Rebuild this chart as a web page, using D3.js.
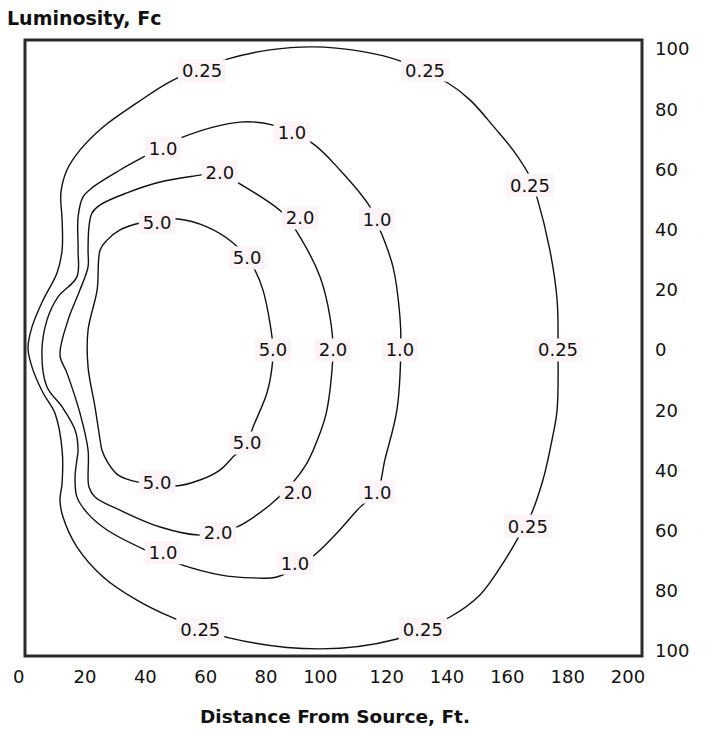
<!DOCTYPE html>
<html>
<head>
<meta charset="utf-8">
<script src="https://cdn.jsdelivr.net/npm/d3@7"></script>
<style>
  body { margin: 0; background: #fff; }
  svg text { font-family: "DejaVu Sans", "Open Sans", sans-serif; fill: #111; }
</style>
</head>
<body>
<div id="chart"></div>
<script>
////////////////////------ DATA (distance ft, lateral ft) ------////////////////////
var xTicks = [0, 20, 40, 60, 80, 100, 120, 140, 160, 180, 200];
var yTicks = [100, 80, 60, 40, 20, 0, -20, -40, -60, -80, -100];

var levels = ["0.25", "1.0", "2.0", "5.0"];

var contour025 = [[49.2,89.7],[67.4,96.7],[81.3,99.7],[95.6,100.7],[111.2,99.3],[123.7,96.3],
  [140.3,88.7],[147.6,83.1],[155.9,73.7],[161.9,66.4],[167.5,57.5],[169.8,50.8],[174.1,33.2],
  [176.5,16.6],[176.8,0.3],[176.5,-19.9],[174.8,-29.9],[171.8,-43.2],[167.5,-55.5],[163.2,-63.1],
  [159.2,-69.8],[150.9,-81.4],[141.0,-88.7],[123.4,-96.0],[97.9,-99.3],[68.1,-95.7],[49.2,-89.0],
  [37.2,-83.1],[26.0,-75.4],[17.3,-65.4],[12.7,-55.5],[11.7,-49.8],[12.4,-44.2],[12.4,-33.2],
  [10.0,-20.9],[6.1,-14.3],[2.4,-5.6],[1.1,0.7],[2.4,7.6],[6.1,16.6],[10.7,25.6],[12.4,33.2],
  [12.4,43.2],[12.0,52.2],[14.0,59.8],[18.3,66.4],[26.0,74.1],[37.2,82.1]];

var contour10 = [[39.9,64.4],[51.5,70.4],[71.4,75.7],[82.3,74.7],[95.2,68.8],[104.5,59.8],
  [114.5,47.5],[117.8,39.9],[122.1,27.6],[124.4,11.0],[124.7,0.3],[123.4,-19.9],[119.4,-36.5],
  [116.8,-47.2],[111.2,-52.2],[103.5,-60.8],[95.2,-68.8],[83.6,-75.4],[75.7,-75.7],[64.7,-74.7],
  [52.1,-71.4],[39.9,-66.4],[27.3,-59.8],[20.7,-54.1],[17.3,-48.8],[16.7,-42.2],[17.3,-36.5],
  [17.7,-33.2],[16.7,-26.6],[12.4,-18.9],[7.4,-12.3],[5.7,-1.0],[7.4,10.0],[11.0,17.6],
  [17.3,24.3],[17.7,33.2],[17.7,44.2],[19.3,50.8],[22.6,54.1],[31.6,59.8]];

var contour20 = [[44.9,55.8],[58.1,58.1],[64.7,59.1],[70.4,55.8],[85.6,45.5],[91.3,37.5],
  [97.9,24.3],[101.2,11.0],[102.2,0.3],[100.2,-19.9],[97.9,-27.6],[93.6,-37.5],[87.9,-45.2],
  [81.3,-51.5],[70.4,-58.8],[64.1,-60.8],[58.1,-61.5],[44.9,-58.8],[31.6,-53.2],[23.3,-48.8],
  [21.3,-45.5],[21.0,-33.2],[18.3,-20.9],[14.0,-7.6],[11.7,-1.7],[14.4,10.0],[18.3,19.9],
  [21.0,27.6],[21.0,33.2],[21.3,40.9],[22.3,45.5],[25.0,48.2],[33.9,52.2]];

var contour50 = [[38.2,42.2],[43.9,42.9],[50.8,43.5],[60.4,40.9],[68.7,35.9],[73.7,30.6],
  [76.3,26.6],[79.0,19.9],[81.3,9.0],[82.3,0.7],[82.0,-5.6],[80.3,-14.3],[75.7,-25.6],
  [73.7,-30.9],[69.1,-35.5],[64.7,-39.9],[58.1,-43.2],[49.8,-45.2],[43.9,-44.2],[37.6,-43.9],
  [30.9,-41.5],[27.6,-37.5],[25.6,-33.2],[25.0,-29.9],[23.3,-18.9],[21.0,-5.6],[21.0,6.6],
  [24.0,19.9],[25.0,33.2],[27.3,36.5],[31.6,39.9]];

// label anchor points on each contour
var labels025 = [[58.8,92.7],[132.7,93.0],[167.5,54.8],[176.8,0],[166.8,-58.5],[132.0,-92.7],[58.2,-92.7]];
var labels10 = [[45.9,67.1],[88.6,72.1],[116.8,43.5],[124.4,0],[116.8,-47.2],[89.6,-70.8],[45.9,-67.4]];
var labels20 = [[64.7,59.1],[91.3,43.9],[102.2,0],[90.6,-47.5],[64.1,-60.8]];
var labels50 = [[43.9,42.5],[73.7,30.6],[82.3,0],[73.7,-30.9],[43.9,-43.9]];

var contours = [contour025, contour10, contour20, contour50];
var contourLabels = [labels025, labels10, labels20, labels50];

////////////////////------ LAYOUT ------////////////////////
var width = 709, height = 730;
var frame = {left: 25, top: 40, right: 642, bottom: 656};

var svg = d3.select("#chart").append("svg")
    .attr("width", width)
    .attr("height", height);

var x = d3.scaleLinear().domain([0, 200]).range([24.7, 628]);
var y = d3.scaleLinear().domain([-100, 100]).range([651, 49]);

// contour lines
var line = d3.line()
    .x(d => x(d[0]))
    .y(d => y(d[1]))
    .curve(d3.curveCatmullRomClosed.alpha(0.5));

svg.append("g").selectAll("path")
  .data(contours)
  .join("path")
    .attr("d", line)
    .attr("fill", "none")
    .attr("stroke", "#111")
    .attr("stroke-width", 1.4);

// frame
svg.append("rect")
    .attr("x", frame.left)
    .attr("y", frame.top)
    .attr("width", frame.right - frame.left)
    .attr("height", frame.bottom - frame.top)
    .attr("fill", "none")
    .attr("stroke", "#2b2b2b")
    .attr("stroke-width", 3);

// contour labels with light box behind
var labelG = svg.append("g");
contourLabels.forEach(function(pts, i) {
  pts.forEach(function(p) {
    var g = labelG.append("g").attr("transform", "translate(" + x(p[0]) + "," + y(p[1]) + ")");
    var rect = g.append("rect").attr("fill", "#fcf4f6");
    var t = g.append("text")
        .attr("text-anchor", "middle")
        .attr("dy", "0.36em")
        .style("font-size", "18px")
        .text(levels[i]);
    var bb = t.node().getBBox();
    rect.attr("x", bb.x - 4).attr("y", -11.5)
        .attr("width", bb.width + 8).attr("height", 23);
  });
});

// x tick labels ("0" and "100" sit a little left in the original)
svg.append("g").selectAll("text")
  .data(xTicks)
  .join("text")
    .attr("x", d => x(d) - (d === 0 || d === 100 ? 6 : 0))
    .attr("y", 683)
    .attr("text-anchor", "middle")
    .style("font-size", "18px")
    .text(d => d);

// y tick labels (absolute values either side of the axis line)
svg.append("g").selectAll("text")
  .data(yTicks)
  .join("text")
    .attr("x", 655)
    .attr("y", d => y(d))
    .attr("dy", "0.36em")
    .style("font-size", "18px")
    .text(d => Math.abs(d));

// titles
svg.append("text")
    .attr("x", 7)
    .attr("y", 25)
    .style("font-size", "19px")
    .style("font-weight", "bold")
    .text("Luminosity, Fc");

svg.append("text")
    .attr("x", 335)
    .attr("y", 723)
    .attr("text-anchor", "middle")
    .style("font-size", "18.5px")
    .style("font-weight", "bold")
    .text("Distance From Source, Ft.");
</script>
</body>
</html>
